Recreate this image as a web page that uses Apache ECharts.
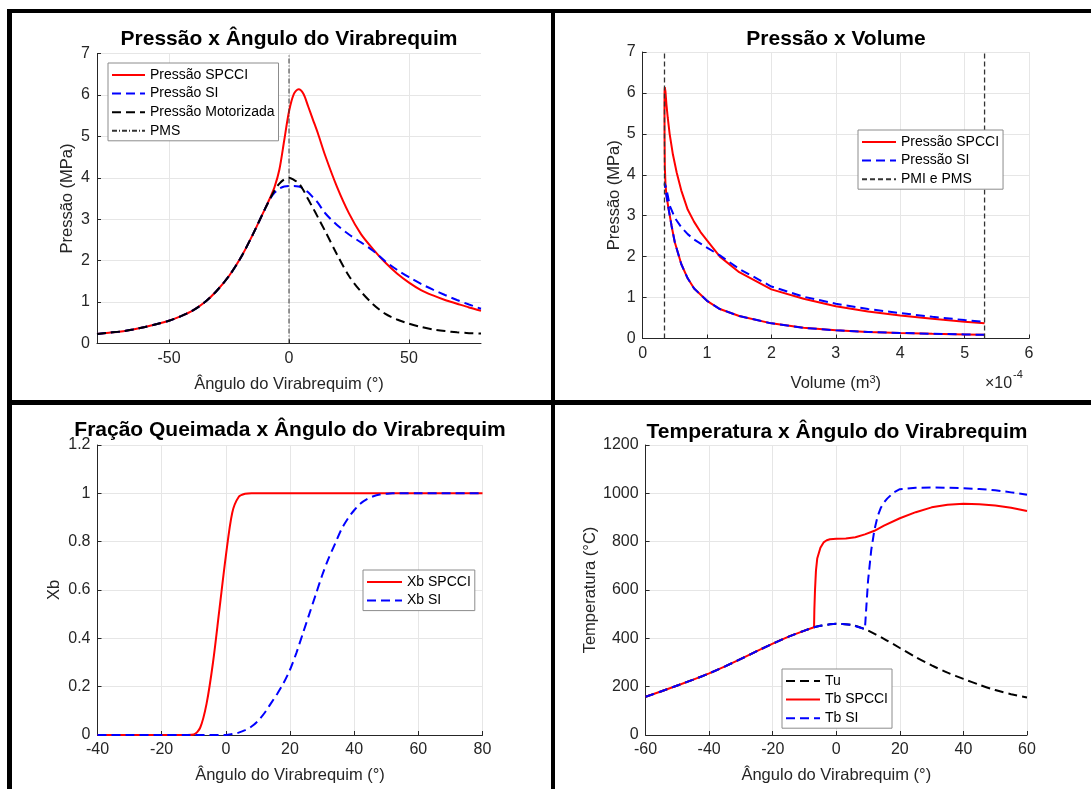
<!DOCTYPE html>
<html>
<head>
<meta charset="utf-8">
<script src="https://cdn.jsdelivr.net/npm/echarts@6/dist/echarts.min.js"></script>
<style>
  html, body { margin: 0; padding: 0; background: #fff; }
  #chart { width: 1091px; height: 789px; }
</style>
</head>
<body>
<div id="chart"></div>
<script>
// Pressão x Ângulo (MPa)
const pAngle = [-80,-75,-70,-65,-60,-55,-50,-45,-40,-35,-30,-25,-20,-15,-10,-8,-6,-4,-2,0,2,4,6,8,10,12,15,20,25,30,35,40,45,50,55,60,65,70,75,80];
const pMotored = [0.23,0.26,0.29,0.34,0.40,0.47,0.55,0.66,0.80,1.00,1.28,1.63,2.08,2.64,3.25,3.48,3.70,3.86,3.96,4.00,3.95,3.87,3.70,3.48,3.27,3.05,2.72,2.15,1.63,1.25,0.95,0.72,0.58,0.48,0.40,0.34,0.30,0.27,0.25,0.24];
const pSpcci = [0.23,0.26,0.29,0.34,0.40,0.47,0.55,0.66,0.80,1.00,1.28,1.63,2.08,2.64,3.25,3.50,3.78,4.20,4.90,5.60,6.02,6.14,6.03,5.72,5.40,5.08,4.55,3.78,3.14,2.64,2.28,1.96,1.69,1.47,1.29,1.16,1.05,0.96,0.87,0.79];
const pSi = [0.23,0.26,0.29,0.34,0.40,0.47,0.55,0.66,0.80,1.00,1.28,1.63,2.08,2.64,3.25,3.48,3.64,3.74,3.79,3.80,3.80,3.79,3.74,3.65,3.53,3.40,3.15,2.86,2.63,2.44,2.24,1.99,1.78,1.60,1.44,1.30,1.17,1.05,0.94,0.84];
const pmsAngle = [0, 0];
const pmsP = [0, 7];

// Pressão x Volume (volume in 1e-4 m3)
const pvCompV = [5.31,5.0,4.5,4.0,3.5,3.0,2.5,2.0,1.5,1.2,1.0,0.8,0.7,0.6,0.5,0.45,0.4,0.37];
const pvCompP = [0.09,0.10,0.115,0.135,0.16,0.20,0.26,0.37,0.55,0.72,0.92,1.22,1.47,1.82,2.35,2.75,3.20,3.50];
const pvSpcciV = [0.355,0.345,0.341,0.34,0.341,0.345,0.355,0.37,0.39,0.42,0.47,0.53,0.6,0.7,0.8,0.9,1.0,1.2,1.5,2.0,2.5,3.0,3.5,4.0,4.5,5.0,5.31];
const pvSpcciP = [3.78,4.2,4.9,5.6,6.02,6.14,6.03,5.72,5.4,5.0,4.5,4.05,3.62,3.15,2.85,2.6,2.4,2.0,1.62,1.2,0.97,0.79,0.66,0.56,0.48,0.41,0.37];
const pvSiV = [0.355,0.345,0.341,0.34,0.341,0.345,0.355,0.37,0.39,0.42,0.5,0.6,0.7,0.8,0.9,1.0,1.2,1.5,2.0,2.5,3.0,3.5,4.0,4.5,5.0,5.31];
const pvSiP = [3.64,3.74,3.79,3.8,3.8,3.79,3.74,3.65,3.5,3.25,2.95,2.72,2.55,2.42,2.32,2.22,2.03,1.7,1.27,1.02,0.85,0.72,0.62,0.53,0.45,0.41];
const pmiV = [0.34, 0.34];
const pmsV = [5.31, 5.31];
const pvLimits = [0, 7];

// Fração queimada
const xbAngle = [-40,-30,-20,-12,-10,-8,-6,-4,-2,0,2,4,6,8,10,12,14,16,18,20,22,24,26,28,30,32,34,36,38,40,42,44,46,48,50,52,54,60,70,80];
const xbSpcci = [0,0,0,0,0.002,0.03,0.13,0.30,0.52,0.74,0.92,0.985,0.998,1,1,1,1,1,1,1,1,1,1,1,1,1,1,1,1,1,1,1,1,1,1,1,1,1,1,1];
const xbSi = [0,0,0,0,0,0,0,0,0,0,0.004,0.01,0.02,0.035,0.058,0.09,0.13,0.17,0.215,0.27,0.34,0.42,0.5,0.58,0.66,0.73,0.79,0.85,0.895,0.93,0.958,0.976,0.988,0.995,0.998,1,1,1,1,1];

// Temperatura (°C)
const tuAngle = [-60,-55,-50,-45,-40,-35,-30,-25,-20,-15,-10,-7,-5,-2,0,2,5,9,10,15,20,25,30,35,40,45,50,55,60];
const tu = [158,181,205,229,255,284,315,347,378,407,432,446,452,458,460,459,455,438,432,398,360,322,288,258,232,208,186,169,155];
const tbSpcciAngle = [-60,-55,-50,-45,-40,-35,-30,-25,-20,-15,-10,-7,-6.9,-6.7,-6.4,-6,-5,-4,-3,-2,0,3,6,9,12,15,20,25,30,35,40,45,50,55,60];
const tbSpcci = [158,181,205,229,255,284,315,347,378,407,432,446,520,600,680,730,775,797,806,810,812,813,818,830,845,866,897,922,942,953,957,955,950,940,927];
const tbSiAngle = [-60,-55,-50,-45,-40,-35,-30,-25,-20,-15,-10,-7,-5,-2,0,2,5,9,9.5,10,11,12,13,14,15,16,18,20,25,30,35,40,45,50,55,60];
const tbSi = [158,181,205,229,255,284,315,347,378,407,432,446,452,458,460,459,455,438,540,640,766,849,905,940,962,978,1003,1017,1023,1024,1023,1021,1018,1013,1004,994];

const FONT = 'Liberation Sans';
const TXT = '#262626';
const RED = '#ff0000';
const BLUE = '#0000ff';
const DASH = [9, 5];

const pairs = (xs, ys) => xs.map((x, i) => [x, ys[i]]);

function line(name, data, grid, color, type, width, smooth) {
  return {
    name, type: 'line', xAxisIndex: grid, yAxisIndex: grid, data,
    symbol: 'none', smooth: smooth || false,
    lineStyle: { color, type, width },
    itemStyle: { color },
    silent: true, animation: false
  };
}

function axis(grid, min, max, interval, name, nameGap, extra) {
  return Object.assign({
    type: 'value', gridIndex: grid, min, max, interval,
    name, nameLocation: 'middle', nameGap,
    nameTextStyle: { fontSize: 16.5, color: TXT, fontFamily: FONT },
    axisLine: { show: true, onZero: false, lineStyle: { color: '#262626', width: 1 } },
    axisTick: { show: true, inside: true, length: 4, lineStyle: { color: '#262626' } },
    axisLabel: { fontSize: 16, color: TXT, fontFamily: FONT, margin: 7, formatter: v => String(+v.toFixed(2)) },
    splitLine: { show: true, lineStyle: { color: '#e6e6e6', width: 1 } }
  }, extra || {});
}

function legend(left, top, names, itemWidth) {
  return {
    left, top, orient: 'vertical', data: names,
    padding: [5, 4, 3, 3], itemGap: 4.6, itemWidth, itemHeight: 14,
    borderColor: '#8c8c8c', borderWidth: 1, borderRadius: 0, backgroundColor: '#fff',
    itemStyle: { opacity: 0 },
    textStyle: { fontSize: 14, color: '#000', fontFamily: FONT },
    selectedMode: false
  };
}

function title(x, y, text) {
  return { type: 'text', x, y, silent: true,
    style: { text, fill: '#000', font: 'bold 21px "Liberation Sans"', textAlign: 'center', textVerticalAlign: 'middle' } };
}

function bar(x, y, w, h) {
  return { type: 'rect', silent: true, shape: { x, y, width: w, height: h }, style: { fill: '#000' } };
}

const chart = echarts.init(document.getElementById('chart'), null, { renderer: 'canvas' });

chart.setOption({
  animation: false,
  backgroundColor: '#fff',
  grid: [
    { left: 97, top: 53.5, width: 384, height: 290, outerBoundsMode: 'none' },
    { left: 642.6, top: 52, width: 386.4, height: 286.5, outerBoundsMode: 'none' },
    { left: 97.5, top: 445, width: 385, height: 290, outerBoundsMode: 'none' },
    { left: 645.6, top: 445, width: 381.4, height: 290, outerBoundsMode: 'none' }
  ],
  xAxis: [
    axis(0, -80, 80, null, 'Ângulo do Virabrequim (°)', 32, {
      axisTick: { show: true, inside: true, length: 4, lineStyle: { color: '#262626' }, customValues: [-50, 0, 50] },
      axisLabel: { fontSize: 16, color: TXT, fontFamily: FONT, margin: 7, customValues: [-50, 0, 50] }
    }),
    axis(1, 0, 6, 1, '{n|Volume (m}{s|3}{n|)}', 36, {
      nameTextStyle: { fontSize: 16.5, color: TXT, fontFamily: FONT,
        rich: { n: { fontSize: 16.5, color: TXT, fontFamily: FONT }, s: { fontSize: 11, color: TXT, fontFamily: FONT, verticalAlign: 'top' } } }
    }),
    axis(2, -40, 80, 20, 'Ângulo do Virabrequim (°)', 32),
    axis(3, -60, 60, 20, 'Ângulo do Virabrequim (°)', 32)
  ],
  yAxis: [
    axis(0, 0, 7, 1, 'Pressão (MPa)', 21),
    axis(1, 0, 7, 1, 'Pressão (MPa)', 19),
    axis(2, 0, 1.2, 0.2, 'Xb', 35),
    axis(3, 0, 1200, 200, 'Temperatura (°C)', 45)
  ],
  legend: [
    legend(108, 63, ['Pressão SPCCI', 'Pressão SI', 'Pressão Motorizada', 'PMS'], 33),
    legend(858, 130, ['Pressão SPCCI', 'Pressão SI', 'PMI e PMS'], 34),
    legend(363, 570, ['Xb SPCCI', 'Xb SI'], 35),
    legend(782, 669, ['Tu', 'Tb SPCCI', 'Tb SI'], 34)
  ],
  series: [
    line('Pressão SPCCI', pairs(pAngle, pSpcci), 0, RED, 'solid', 2, 0.3),
    line('Pressão SI', pairs(pAngle, pSi), 0, BLUE, DASH, 2, 0.3),
    line('Pressão Motorizada', pairs(pAngle, pMotored), 0, '#000', DASH, 2, 0.3),
    line('PMS', pairs(pmsAngle, pmsP), 0, '#333', [5, 2, 1, 2], 1),

    line('Pressão SPCCI', pairs(pvCompV.concat(pvSpcciV), pvCompP.concat(pvSpcciP)), 1, RED, 'solid', 2),
    line('Pressão SI', pairs(pvCompV.concat(pvSiV), pvCompP.concat(pvSiP)), 1, BLUE, DASH, 2),
    line('PMI e PMS', pairs(pmiV, pvLimits), 1, '#333', [5, 3], 1.3),
    line('PMI e PMS', pairs(pmsV, pvLimits), 1, '#333', [5, 3], 1.3),

    line('Xb SPCCI', pairs(xbAngle, xbSpcci), 2, RED, 'solid', 2, 0.3),
    line('Xb SI', pairs(xbAngle, xbSi), 2, BLUE, DASH, 2, 0.3),

    line('Tu', pairs(tuAngle, tu), 3, '#000', DASH, 2, 0.3),
    line('Tb SPCCI', pairs(tbSpcciAngle, tbSpcci), 3, RED, 'solid', 2),
    line('Tb SI', pairs(tbSiAngle, tbSi), 3, BLUE, DASH, 2)
  ],
  graphic: [
    title(289, 39, 'Pressão x Ângulo do Virabrequim'),
    title(836, 39, 'Pressão x Volume'),
    title(290, 430, 'Fração Queimada x Ângulo do Virabrequim'),
    title(837, 432, 'Temperatura x Ângulo do Virabrequim'),
    { type: 'text', x: 985, y: 384, silent: true,
      style: { text: '×10', fill: TXT, font: '16px "Liberation Sans"', textAlign: 'left', textVerticalAlign: 'middle' } },
    { type: 'text', x: 1013, y: 375, silent: true,
      style: { text: '-4', fill: TXT, font: '11px "Liberation Sans"', textAlign: 'left', textVerticalAlign: 'middle' } },
    bar(7, 9, 5, 780),
    bar(7, 9, 1084, 4),
    bar(551, 9, 4, 780),
    bar(7, 400, 1084, 5)
  ]
});
</script>
</body>
</html>
